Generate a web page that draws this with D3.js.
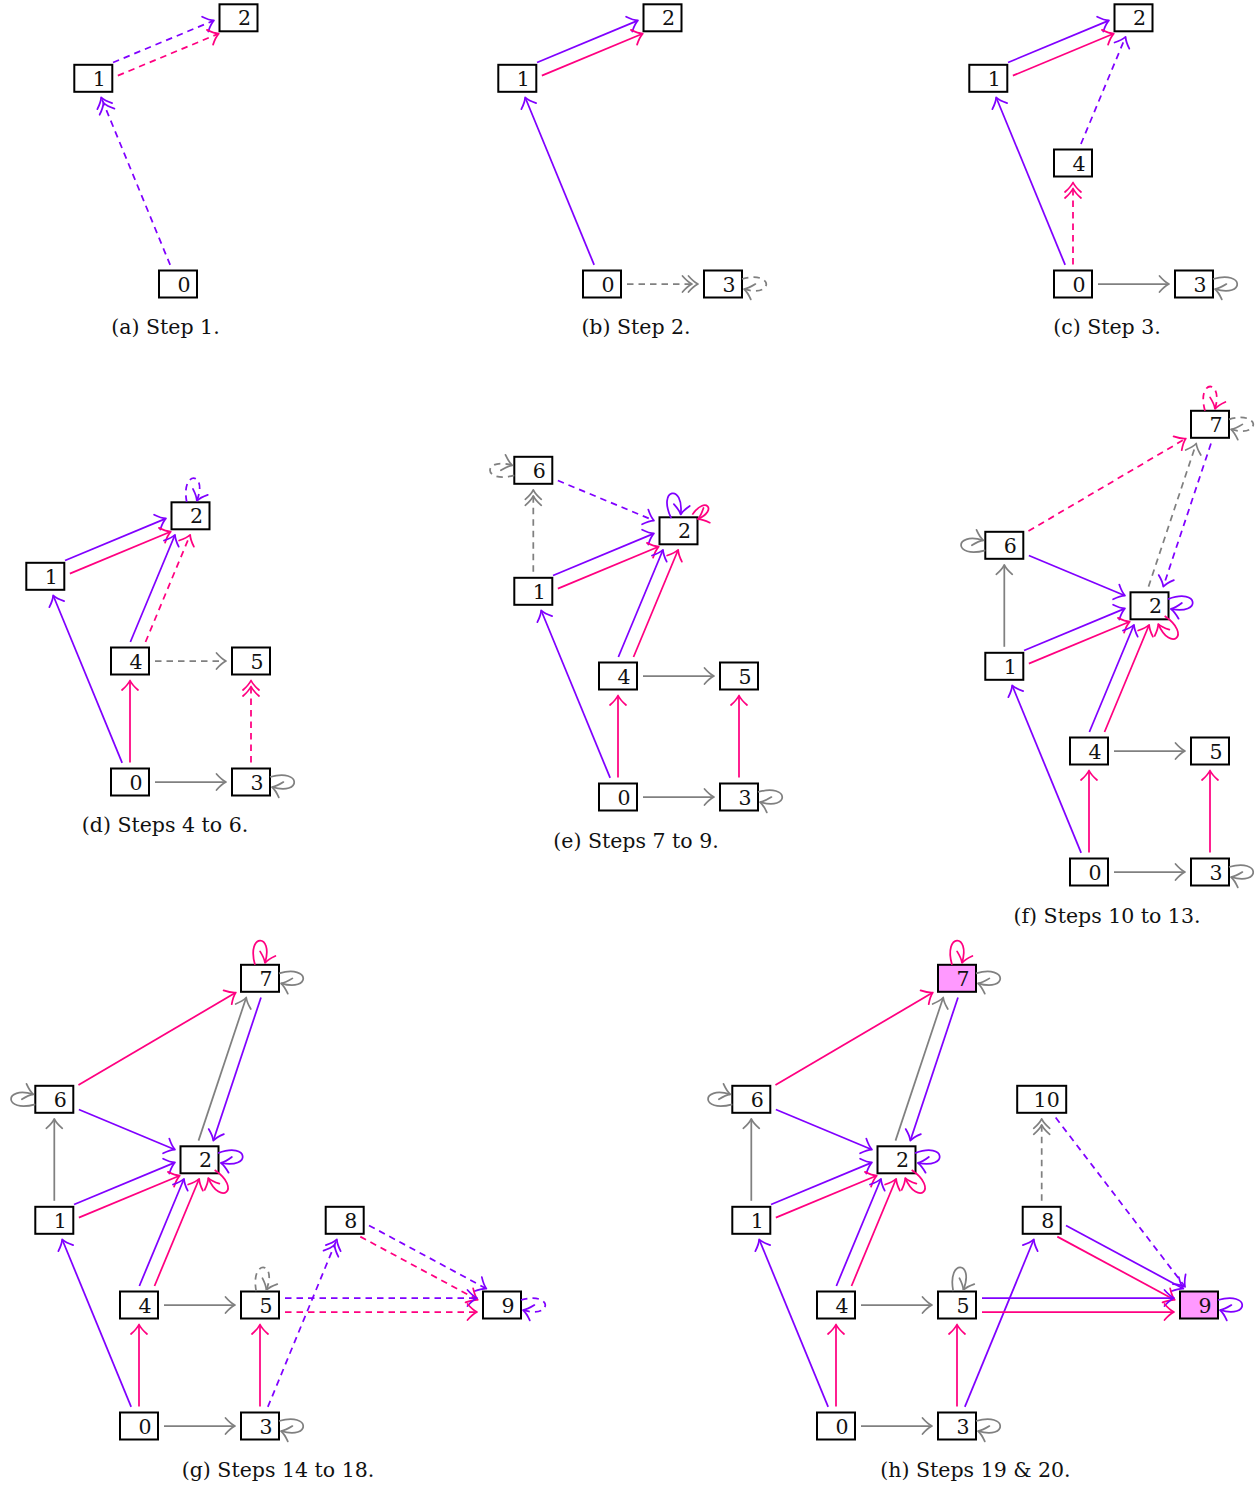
<!DOCTYPE html>
<html>
<head>
<meta charset="utf-8">
<script src="https://cdn.jsdelivr.net/npm/d3@7"></script>
<style>
  body { margin: 0; background: #fff; }
  svg { display: block; }
</style>
</head>
<body>
<script>
// node layout in graph units (x right, y up), shared by every panel
const nodeLabels = ["0", "1", "2", "3", "4", "5", "6", "7", "8", "9", "10"];
const nodeX = [0, -0.7, 0.5, 1, 0, 1, -0.7, 1, 1.7, 3, 1.7];
const nodeY = [0, 1.7, 2.2, 0, 1, 1, 2.7, 3.7, 1.7, 1, 2.7];

const panelLetters = ["a", "b", "c", "d", "e", "f", "g", "h"];
const panelTitles = ["Step 1.", "Step 2.", "Step 3.", "Steps 4 to 6.", "Steps 7 to 9.",
                     "Steps 10 to 13.", "Steps 14 to 18.", "Steps 19 & 20."];
const panelNodes = [
  [0, 1, 2],
  [0, 1, 2, 3],
  [0, 1, 2, 3, 4],
  [0, 1, 2, 3, 4, 5],
  [0, 1, 2, 3, 4, 5, 6],
  [0, 1, 2, 3, 4, 5, 6, 7],
  [0, 1, 2, 3, 4, 5, 6, 7, 8, 9],
  [0, 1, 2, 3, 4, 5, 6, 7, 8, 9, 10]
];
const panelFilled = [[], [], [], [], [], [], [], [7, 9]];

// edges: [from, to, colour, dashed, heads, side]
const edgesA = [[0,1,"p",1,2,0], [1,2,"p",1,1,1], [1,2,"k",1,1,-1]];
const edgesB = [[0,1,"p",0,1,0], [1,2,"p",0,1,1], [1,2,"k",0,1,-1], [0,3,"g",1,2,0]];
const edgesC = [[0,1,"p",0,1,0], [1,2,"p",0,1,1], [1,2,"k",0,1,-1], [0,4,"k",1,2,0],
                [4,2,"p",1,1,0], [0,3,"g",0,1,0]];
const edgesD = [[0,1,"p",0,1,0], [1,2,"p",0,1,1], [1,2,"k",0,1,-1], [4,2,"p",0,1,1],
                [4,2,"k",1,1,-1], [0,4,"k",0,1,0], [4,5,"g",1,1,0], [0,3,"g",0,1,0],
                [3,5,"k",1,2,0]];
const edgesE = [[0,1,"p",0,1,0], [1,2,"p",0,1,1], [1,2,"k",0,1,-1], [4,2,"p",0,1,1],
                [4,2,"k",0,1,-1], [0,4,"k",0,1,0], [4,5,"g",0,1,0], [0,3,"g",0,1,0],
                [3,5,"k",0,1,0], [1,6,"g",1,2,0], [6,2,"p",1,1,0]];
const edgesF = [[0,1,"p",0,1,0], [1,2,"p",0,1,1], [1,2,"k",0,1,-1], [4,2,"p",0,1,1],
                [4,2,"k",0,1,-1], [0,4,"k",0,1,0], [4,5,"g",0,1,0], [0,3,"g",0,1,0],
                [3,5,"k",0,1,0], [1,6,"g",0,1,0], [6,2,"p",0,1,0], [6,7,"k",1,1,0],
                [2,7,"g",1,1,1], [7,2,"p",1,1,1]];
const edgesG = [[0,1,"p",0,1,0], [1,2,"p",0,1,1], [1,2,"k",0,1,-1], [4,2,"p",0,1,1],
                [4,2,"k",0,1,-1], [0,4,"k",0,1,0], [4,5,"g",0,1,0], [0,3,"g",0,1,0],
                [3,5,"k",0,1,0], [1,6,"g",0,1,0], [6,2,"p",0,1,0], [6,7,"k",0,1,0],
                [2,7,"g",0,1,1], [7,2,"p",0,1,1], [3,8,"p",1,2,0], [8,9,"p",1,1,1],
                [8,9,"k",1,1,-1], [5,9,"p",1,1,1], [5,9,"k",1,1,-1]];
const edgesH = [[0,1,"p",0,1,0], [1,2,"p",0,1,1], [1,2,"k",0,1,-1], [4,2,"p",0,1,1],
                [4,2,"k",0,1,-1], [0,4,"k",0,1,0], [4,5,"g",0,1,0], [0,3,"g",0,1,0],
                [3,5,"k",0,1,0], [1,6,"g",0,1,0], [6,2,"p",0,1,0], [6,7,"k",0,1,0],
                [2,7,"g",0,1,1], [7,2,"p",0,1,1], [3,8,"p",0,1,0], [8,9,"p",0,1,1],
                [8,9,"k",0,1,-1], [5,9,"p",0,1,1], [5,9,"k",0,1,-1], [8,10,"g",1,2,0],
                [10,9,"p",1,1,0]];
const panelEdges = [edgesA, edgesB, edgesC, edgesD, edgesE, edgesF, edgesG, edgesH];

// self loops: [node, colour, dashed, angle in degrees, size]
const loopsA = [];
const loopsB = [[3,"g",1,0,1]];
const loopsC = [[3,"g",0,0,1]];
const loopsD = [[2,"p",1,85,1], [3,"g",0,0,1]];
const loopsE = [[3,"g",0,0,1], [6,"g",1,180,1], [2,"p",0,100,1], [2,"k",0,40,0.7]];
const loopsF = [[3,"g",0,0,1], [6,"g",0,180,1], [7,"k",1,90,1], [7,"g",1,0,1],
                [2,"p",0,5,1], [2,"k",0,-50,1]];
const loopsG = [[3,"g",0,0,1], [6,"g",0,180,1], [7,"k",0,90,1], [7,"g",0,0,1],
                [2,"p",0,5,1], [2,"k",0,-50,1], [5,"g",1,85,1], [9,"p",1,0,1]];
const loopsH = [[3,"g",0,0,1], [6,"g",0,180,1], [7,"k",0,90,1], [7,"g",0,0,1],
                [2,"p",0,5,1], [2,"k",0,-50,1], [5,"g",0,85,1], [9,"p",0,0,1]];
const panelLoops = [loopsA, loopsB, loopsC, loopsD, loopsE, loopsF, loopsG, loopsH];

const colours = { p: "#8000ff", k: "#ff0080", g: "#808080" };

// layout: pixel position of node 0 for each panel, and caption anchors
const panelOrigin = [[178,284], [602,284], [1073,284], [130,782], [618,797], [1089,872], [139,1426], [836,1426]];
const captionPos = [[165.5,334], [636,334], [1107,334], [165,832], [636,848], [1107,923], [278,1477], [975.5,1477]];
const unit = 121;
const gap = 6, sideShift = 7;
const lineW = 1.75, dash = "6.5,5";

const svg = d3.select("body")
              .append("svg")
              .attr("width", 1260)
              .attr("height", 1487);

function boxW(i) { return 38 + (nodeLabels[i].length - 1) * 11; }
const boxH = 27;

// distance from p (inside box centred at c) along d to the box edge
function exitDist(p, d, c, hw, hh) {
  let t = Infinity;
  if (d[0] > 1e-9) t = Math.min(t, (c[0] + hw - p[0]) / d[0]);
  if (d[0] < -1e-9) t = Math.min(t, (c[0] - hw - p[0]) / d[0]);
  if (d[1] > 1e-9) t = Math.min(t, (c[1] + hh - p[1]) / d[1]);
  if (d[1] < -1e-9) t = Math.min(t, (c[1] - hh - p[1]) / d[1]);
  return t;
}

function headPath(tip, d) {
  const n = [-d[1], d[0]];
  const L = 9.5, W = 8;
  const pt = (a, b) => [tip[0] - d[0] * a + n[0] * b, tip[1] - d[1] * a + n[1] * b];
  const a1 = pt(L, W), c1 = pt(L * 0.45, W * 0.25), c2 = pt(L * 0.45, -W * 0.25), a2 = pt(L, -W);
  return `M${a1}Q${c1} ${tip}Q${c2} ${a2}`;
}

panelLetters.forEach((letter, k) => {
  const [ox, oy] = panelOrigin[k];
  const x = d3.scaleLinear().domain([0, 1]).range([ox, ox + unit]);
  const y = d3.scaleLinear().domain([0, 1]).range([oy, oy - unit]);
  const centre = i => [x(nodeX[i]), y(nodeY[i])];

  const g = svg.append("g");
  const boxes = g.append("g");
  const lines = g.append("g");

  // nodes
  const nodes = boxes.selectAll("g.node")
                     .data(panelNodes[k])
                     .enter().append("g")
                     .attr("transform", i => `translate(${centre(i)})`);

  nodes.append("rect")
       .attr("x", i => -boxW(i) / 2)
       .attr("y", -boxH / 2)
       .attr("width", boxW)
       .attr("height", boxH)
       .attr("fill", i => panelFilled[k].includes(i) ? "#ff99ff" : "#fff")
       .attr("stroke", "#000")
       .attr("stroke-width", 2);

  nodes.append("text")
       .attr("x", i => boxW(i) / 2 - 6.5)
       .attr("y", 7.5)
       .attr("text-anchor", "end")
       .attr("font-family", "DejaVu Serif")
       .attr("font-size", 20.5)
       .attr("fill", "#111")
       .text(i => nodeLabels[i]);

  // edges between nodes
  panelEdges[k].forEach(([s, t, col, dashed, heads, side]) => {
    const c1 = centre(s), c2 = centre(t);
    const len = Math.hypot(c2[0] - c1[0], c2[1] - c1[1]);
    const d = [(c2[0] - c1[0]) / len, (c2[1] - c1[1]) / len];
    const n = [d[1], -d[0]];
    const p1 = [c1[0] + n[0] * side * sideShift, c1[1] + n[1] * side * sideShift];
    const p2 = [c2[0] + n[0] * side * sideShift, c2[1] + n[1] * side * sideShift];
    const t1 = exitDist(p1, d, c1, boxW(s) / 2, boxH / 2) + gap;
    const t2 = exitDist(p2, [-d[0], -d[1]], c2, boxW(t) / 2, boxH / 2) + gap;
    const a = [p1[0] + d[0] * t1, p1[1] + d[1] * t1];
    const b = [p2[0] - d[0] * t2, p2[1] - d[1] * t2];

    lines.append("path")
         .attr("d", d3.line()([a, [b[0] - d[0], b[1] - d[1]]]))
         .attr("fill", "none")
         .attr("stroke", colours[col])
         .attr("stroke-width", lineW)
         .attr("stroke-dasharray", dashed ? dash : null);

    for (let h = 0; h < heads; h++) {
      const tip = [b[0] - d[0] * 6 * h, b[1] - d[1] * 6 * h];
      lines.append("path")
           .attr("d", headPath(tip, d))
           .attr("fill", "none")
           .attr("stroke", colours[col])
           .attr("stroke-width", lineW)
           .attr("stroke-linecap", "round")
           .attr("stroke-linejoin", "round");
    }
  });

  // self loops
  panelLoops[k].forEach(([i, col, dashed, ang, size]) => {
    const c = centre(i);
    const r = ang * Math.PI / 180;
    const u = [Math.cos(r), -Math.sin(r)];
    const v = [u[1], -u[0]];
    const tb = exitDist(c, u, c, boxW(i) / 2, boxH / 2);
    const B = [c[0] + u[0] * tb, c[1] + u[1] * tb];
    const m = (a, b) => [B[0] + u[0] * a * size + v[0] * b * size, B[1] + u[1] * a * size + v[1] * b * size];
    const P0 = m(0, 5), C1 = m(32, 14), C2 = m(32, -14), P3 = m(2, -5);
    const dl = Math.hypot(P3[0] - C2[0], P3[1] - C2[1]);
    const dir = [(P3[0] - C2[0]) / dl, (P3[1] - C2[1]) / dl];

    lines.append("path")
         .attr("d", `M${P0}C${C1} ${C2} ${P3}`)
         .attr("fill", "none")
         .attr("stroke", colours[col])
         .attr("stroke-width", lineW)
         .attr("stroke-dasharray", dashed ? dash : null);

    lines.append("path")
         .attr("d", headPath(P3, dir))
         .attr("fill", "none")
         .attr("stroke", colours[col])
         .attr("stroke-width", lineW)
         .attr("stroke-linecap", "round")
         .attr("stroke-linejoin", "round");
  });

  // caption
  svg.append("text")
     .attr("x", captionPos[k][0])
     .attr("y", captionPos[k][1])
     .attr("text-anchor", "middle")
     .attr("font-family", "DejaVu Serif")
     .attr("font-size", 20.5)
     .attr("fill", "#111")
     .text(`(${letter}) ${panelTitles[k]}`);
});
</script>
</body>
</html>
